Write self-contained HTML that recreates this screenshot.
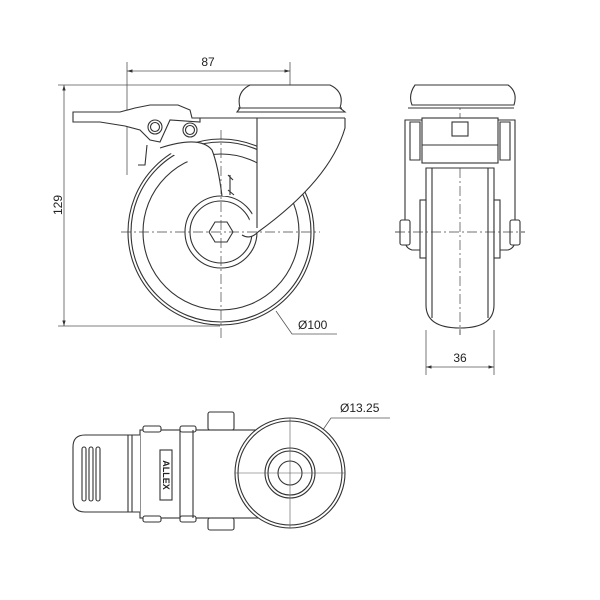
<!DOCTYPE html>
<html><head><meta charset="utf-8"><style>
html,body{margin:0;padding:0;background:#fff;}
svg{display:block;}
text{font-family:"Liberation Sans",sans-serif;fill:#222;}
</style></head><body>
<svg width="600" height="600" viewBox="0 0 600 600" xmlns="http://www.w3.org/2000/svg">
<defs>
<marker id="ar" viewBox="0 0 10 10" refX="10" refY="5" markerWidth="7" markerHeight="7" orient="auto-start-reverse"><path d="M0,2 L10,5 L0,8 z" fill="#333"/></marker>
</defs>
<g fill="none" stroke="#555" stroke-width="0.8">
<line x1="127" y1="62" x2="127" y2="175"/>
<line x1="290" y1="62" x2="290" y2="100"/>
<line x1="127" y1="71" x2="290" y2="71" marker-start="url(#ar)" marker-end="url(#ar)"/>
<line x1="58" y1="85" x2="250" y2="85"/>
<line x1="58" y1="326" x2="220" y2="326"/>
<line x1="64" y1="85" x2="64" y2="326" marker-start="url(#ar)" marker-end="url(#ar)"/>
<polyline points="276,311 292,334 337,334"/>
<line x1="426" y1="330" x2="426" y2="375"/>
<line x1="494" y1="330" x2="494" y2="375"/>
<line x1="426" y1="367" x2="494" y2="367" marker-start="url(#ar)" marker-end="url(#ar)"/>
<polyline points="307,453 331,418 390,418"/>
</g>
<text x="208" y="66" font-size="12" text-anchor="middle">87</text>
<text transform="translate(62,205) rotate(-90)" font-size="12" text-anchor="middle">129</text>
<text x="298" y="329" font-size="12">Ø100</text>
<text x="460" y="362" font-size="12" text-anchor="middle">36</text>
<text x="340" y="412" font-size="12">Ø13.25</text>

<!-- SIDE VIEW -->
<g fill="none" stroke="#333" stroke-width="1.1">
<circle cx="221" cy="232" r="93" fill="#fff"/>
<circle cx="221" cy="232" r="90"/>
<circle cx="221" cy="232" r="78"/>
<circle cx="221" cy="232" r="36"/>
<circle cx="221" cy="232" r="31"/>
<polygon points="233,232 227,242 215,242 209,232 215,222 227,222" fill="#fff"/>
<!-- fork -->
<path d="M160,148 Q200,135 212,150 Q218,165 222,196 L257,196 L257,118 L345,118 L345,128 Q330,180 258,232 Q250,240 240,235 Q255,215 257,196" fill="#fff" stroke="none"/>
<path d="M160,148 Q200,135 212,150 Q218,165 222,196"/>
<path d="M345,118 L345,128 Q330,180 258,232 Q250,240 242,235"/>
<line x1="200" y1="118" x2="345" y2="118"/>
<line x1="257" y1="118" x2="257" y2="228"/>
<!-- top plate -->
<path d="M240,108 Q236,92 250,85 L330,85 Q345,92 340,108 L345,112 L237,112 Z" fill="#fff"/>
<line x1="238" y1="108" x2="342" y2="108"/>
<!-- brake lever -->
<path d="M73,112 L120,112 L135,108 L150,105 L178,105 L190,110 L192,118 L200,118 L200,122 L170,120 L160,142 L150,140 L140,130 L125,126 L100,122 L73,122 Z" fill="#fff"/>
<circle cx="155" cy="127" r="7" fill="#fff"/>
<circle cx="155" cy="127" r="4.5"/>
<circle cx="190" cy="130" r="7" fill="#fff"/>
<circle cx="190" cy="130" r="4.5"/>
<path d="M147,145 L145,165 L138,165"/>
<path d="M230,175 L230,195 M228,175 L233,180 M228,190 L234,195"/>
</g>
<g stroke="#444" stroke-width="0.7" stroke-dasharray="10,3,2,3" fill="none">
<line x1="121" y1="232" x2="320" y2="232"/>
<line x1="221" y1="130" x2="221" y2="340"/>
<line x1="395" y1="232" x2="525" y2="232"/>
<line x1="460" y1="95" x2="460" y2="335"/>
</g>

<!-- FRONT VIEW -->
<g fill="#fff" stroke="#333" stroke-width="1.1">
<path d="M405,120 L405,240 Q405,248 412,250 L508,250 Q515,248 515,240 L515,120 Z"/>
<path d="M410,122 L420,122 L420,160 L410,160 Z"/>
<path d="M500,122 L510,122 L510,160 L500,160 Z"/>
<rect x="422" y="118" width="76" height="45"/>
<line x1="422" y1="145" x2="498" y2="145"/>
<rect x="452" y="122" width="16" height="14"/>
<path d="M426,168 L494,168 L494,305 Q494,328 460,328 Q426,328 426,305 Z"/>
<line x1="432" y1="168" x2="432" y2="318"/>
<line x1="488" y1="168" x2="488" y2="318"/>
<rect x="420" y="200" width="6" height="58"/>
<rect x="494" y="200" width="6" height="58"/>
<rect x="400" y="220" width="10" height="25" rx="2"/>
<rect x="510" y="220" width="10" height="25" rx="2"/>
<path d="M412,105 Q408,95 415,85 L508,85 Q518,92 514,105 Z"/>
<line x1="408" y1="108" x2="514" y2="108"/>
</g>
<g stroke="#444" stroke-width="0.7" stroke-dasharray="10,3,2,3" fill="none">
<line x1="460" y1="168" x2="460" y2="335"/>
<line x1="395" y1="232" x2="525" y2="232"/>
</g>

<!-- TOP VIEW -->
<g fill="#fff" stroke="#333" stroke-width="1.1">
<rect x="208" y="412" width="26" height="18" rx="2"/>
<rect x="208" y="518" width="26" height="12" rx="2"/>
<rect x="140" y="430" width="150" height="88"/>
<path d="M140,435 L85,435 Q73,435 73,447 L73,500 Q73,512 85,512 L140,512"/>
<line x1="128" y1="435" x2="128" y2="512"/>
<line x1="132" y1="435" x2="132" y2="512"/>
<rect x="143" y="426" width="18" height="6" rx="2"/>
<rect x="180" y="426" width="16" height="6" rx="2"/>
<rect x="143" y="516" width="18" height="6" rx="2"/>
<rect x="180" y="516" width="16" height="6" rx="2"/>
<line x1="180" y1="430" x2="180" y2="518"/>
<line x1="193" y1="430" x2="193" y2="518"/>
<rect x="82" y="447" width="4" height="54" rx="2"/>
<rect x="89" y="447" width="4" height="54" rx="2"/>
<rect x="96" y="447" width="4" height="54" rx="2"/>
<rect x="160" y="450" width="12" height="50"/>
<circle cx="290" cy="473" r="55"/>
<circle cx="290" cy="473" r="52"/>
<circle cx="290" cy="473" r="25"/>
<circle cx="290" cy="473" r="22"/>
<circle cx="290" cy="473" r="12"/>
</g>
<text transform="translate(163,475) rotate(90)" font-size="9" text-anchor="middle" font-weight="bold">ALLEX</text>
<g stroke="#555" stroke-width="0.6" fill="none">
<line x1="235" y1="473" x2="345" y2="473"/>
<line x1="290" y1="418" x2="290" y2="528"/>
</g>
</svg>
</body></html>
